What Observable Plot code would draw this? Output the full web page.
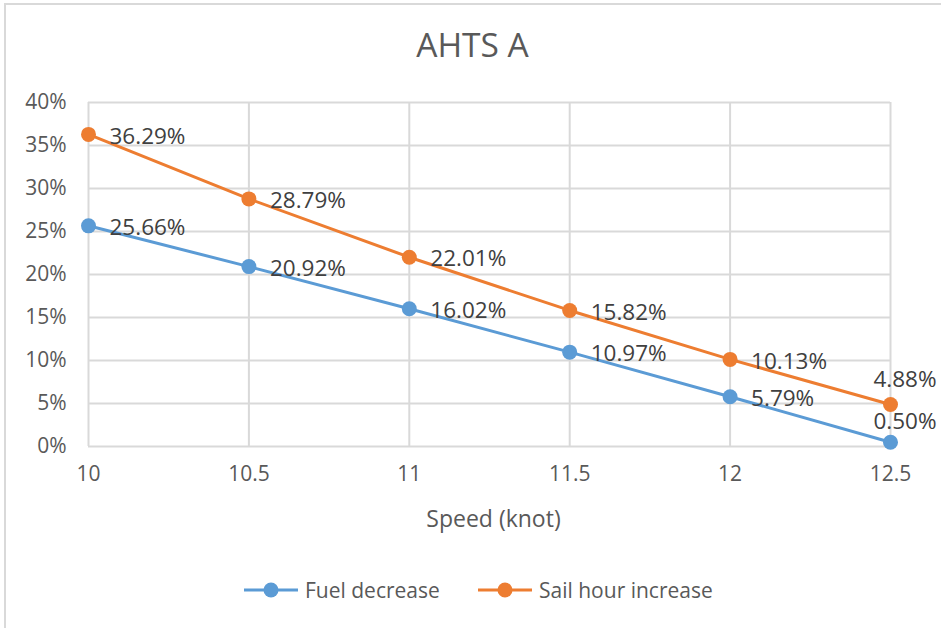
<!DOCTYPE html>
<html>
<head>
<meta charset="utf-8">
<script src="https://cdn.jsdelivr.net/npm/d3@7"></script>
<script src="https://cdn.jsdelivr.net/npm/@observablehq/plot@0.6"></script>
<style>
  html, body { margin: 0; padding: 0; background: #fff; }
  #wrap { position: relative; width: 941px; height: 628px; overflow: hidden; font-family: "Open Sans", sans-serif; }
  #border { position: absolute; left: 4px; top: 3px; width: 940px; height: 700px; border: 2px solid #d9d9d9; box-sizing: border-box; }
  #chart { position: absolute; left: 0; top: 0; }
  #legend { position: absolute; left: 0; top: 575px; width: 941px; height: 30px; }
  .item { position: absolute; top: 0; height: 30px; display: flex; align-items: center; font-size: 21px; color: #595959; white-space: nowrap; }
  .item svg { margin-right: 6px; }
</style>
</head>
<body>
<div id="wrap">
  <div id="border"></div>
  <div id="chart"></div>
  <div id="legend"></div>
</div>
<script>
const speeds = [10, 10.5, 11, 11.5, 12, 12.5];
const fuelDecrease = [25.66, 20.92, 16.02, 10.97, 5.79, 0.50];
const sailHourIncrease = [36.29, 28.79, 22.01, 15.82, 10.13, 4.88];
const seriesNames = ["Fuel decrease", "Sail hour increase"];
const seriesColors = ["#5B9BD5", "#ED7D31"];
const yTicks = [0, 5, 10, 15, 20, 25, 30, 35, 40];
const chartTitle = "AHTS A";
const xTitle = "Speed (knot)";

const rows = [];
speeds.forEach((s, i) => {
  rows.push({x: s, v: fuelDecrease[i], series: seriesNames[0], last: i === speeds.length - 1});
  rows.push({x: s, v: sailHourIncrease[i], series: seriesNames[1], last: i === speeds.length - 1});
});
const fmt = d => d.v.toFixed(2) + "%";

const plot = Plot.plot({
  width: 941,
  height: 628,
  marginLeft: 88,
  marginRight: 51,
  marginTop: 102,
  marginBottom: 182,
  style: {fontFamily: "Open Sans", fontSize: "21px", color: "#595959", background: "transparent", overflow: "visible"},
  x: {domain: [10, 12.5], label: null},
  y: {domain: [0, 40], label: null},
  color: {domain: seriesNames, range: seriesColors},
  marks: [
    Plot.gridX(speeds, {stroke: "#d9d9d9", strokeOpacity: 1, strokeWidth: 2}),
    Plot.gridY(yTicks, {stroke: "#d9d9d9", strokeOpacity: 1, strokeWidth: 2}),
    Plot.axisX(speeds, {tickSize: 0, tickPadding: 20, tickFormat: d => String(d), fontSize: 21, fill: "#595959"}),
    Plot.axisY(yTicks, {tickSize: 0, tickPadding: 22, tickFormat: d => d + "%", fontSize: 21, fill: "#595959"}),
    Plot.line(rows, {x: "x", y: "v", stroke: "series", z: "series", strokeWidth: 3}),
    Plot.dot(rows, {x: "x", y: "v", fill: "series", r: 7.5}),
    Plot.text(rows.filter(d => !d.last), {x: "x", y: "v", text: fmt, textAnchor: "start", dx: 21, dy: 2, fontSize: 22.5, fill: "#404040"}),
    Plot.text(rows.filter(d => d.last && d.series === seriesNames[1]), {x: "x", y: "v", text: fmt, textAnchor: "end", dx: 46, dy: -25, fontSize: 22.5, fill: "#404040"}),
    Plot.text(rows.filter(d => d.last && d.series === seriesNames[0]), {x: "x", y: "v", text: fmt, textAnchor: "end", dx: 46, dy: -20, fontSize: 22.5, fill: "#404040"}),
    Plot.text([chartTitle], {frameAnchor: "top", lineAnchor: "middle", dx: -17, dy: -56, fontSize: 33.5, fill: "#595959"}),
    Plot.text([xTitle], {frameAnchor: "bottom", lineAnchor: "middle", dx: 4, dy: 73, fontSize: 23, fill: "#595959"})
  ]
});
document.getElementById("chart").appendChild(plot);

const legendPos = [243, 477];
const legend = document.getElementById("legend");
seriesNames.forEach((name, i) => {
  const item = document.createElement("div");
  item.className = "item";
  item.style.left = legendPos[i] + "px";
  item.innerHTML = `<svg width="56" height="20"><line x1="1" x2="55" y1="10" y2="10" stroke="${seriesColors[i]}" stroke-width="3"/><circle cx="28" cy="10" r="7.5" fill="${seriesColors[i]}"/></svg><span>${name}</span>`;
  legend.appendChild(item);
});
</script>
</body>
</html>
